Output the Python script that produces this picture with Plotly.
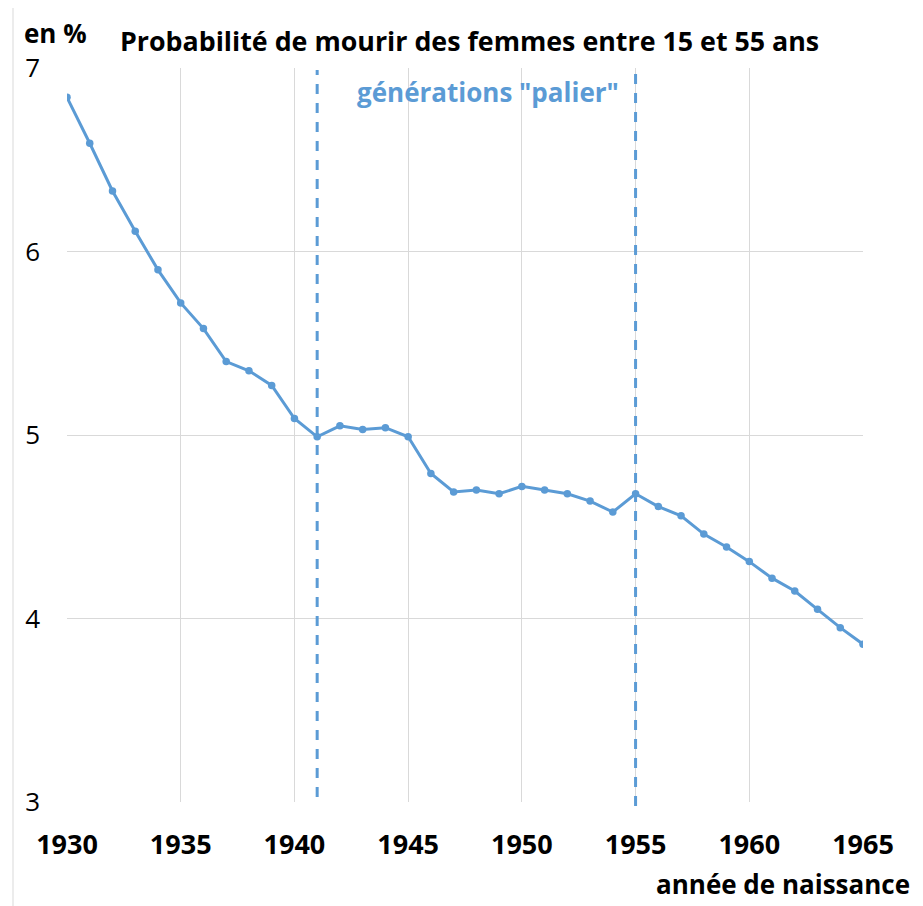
import plotly.graph_objects as go

years = list(range(1930, 1966))
values = [6.84, 6.59, 6.33, 6.11, 5.90, 5.72, 5.58, 5.40, 5.35, 5.27,
          5.09, 4.99, 5.05, 5.03, 5.04, 4.99, 4.79, 4.69, 4.70, 4.68,
          4.72, 4.70, 4.68, 4.64, 4.58, 4.68, 4.61, 4.56, 4.46, 4.39,
          4.31, 4.22, 4.15, 4.05, 3.95, 3.86]
palier_bounds = [1941, 1955]
x_ticks = [1930, 1935, 1940, 1945, 1950, 1955, 1960, 1965]
y_ticks = [3, 4, 5, 6, 7]

BLUE = "#5b9bd5"
FONT = "Open Sans, sans-serif"

# plot area in page pixels (page has an 8px body offset)
OFF = 8
PL, PR, PT, PB = 67, 863, 68, 802
W, H = 923, 906
pw, ph = PR - PL, PB - PT


def px(x):
    return (x - PL) / pw


def py(y):
    return (PB - y) / ph


fig = go.Figure()
fig.add_trace(go.Scatter(
    x=years, y=values, mode="lines+markers",
    line=dict(color=BLUE, width=3),
    marker=dict(color=BLUE, size=7.5),
    showlegend=False,
))

for xb in palier_bounds:
    fig.add_shape(type="line", x0=xb, x1=xb, xref="x", yref="paper",
                  y0=py(797) if xb == 1941 else py(806), y1=py(70),
                  line=dict(color=BLUE, width=3, dash="10px,9px"))

fig.add_annotation(x=1948.5, y=py(92), xref="x", yref="paper",
                   text='générations "palier"', showarrow=False,
                   xanchor="center", yanchor="middle",
                   font=dict(family=FONT, size=26, color=BLUE, weight="bold"))
fig.add_annotation(x=px(22), y=py(33), xref="paper", yref="paper",
                   text="en %", showarrow=False, xanchor="left", yanchor="middle",
                   font=dict(family=FONT, size=26, color="black", weight="bold"))
fig.add_annotation(x=px(118), y=py(40), xref="paper", yref="paper",
                   text="Probabilité de mourir des femmes entre 15 et 55 ans",
                   showarrow=False, xanchor="left", yanchor="middle",
                   font=dict(family=FONT, size=26.8, color="black", weight="bold"))
fig.add_annotation(x=px(912), y=py(884), xref="paper", yref="paper",
                   text="année de naissance", showarrow=False,
                   xanchor="right", yanchor="middle",
                   font=dict(family=FONT, size=26, color="black", weight="bold"))

fig.update_xaxes(range=[1930, 1965], tickvals=x_ticks, showgrid=True,
                 gridcolor="#d9d9d9", gridwidth=1, zeroline=False,
                 showline=False, ticks="", ticklabelstandoff=24,
                 tickfont=dict(family=FONT, size=27, color="black", weight="bold"))
fig.update_yaxes(range=[3, 7], tickvals=y_ticks, showgrid=True,
                 gridcolor="#d9d9d9", gridwidth=1, zeroline=False,
                 showline=False, ticks="", ticklabelstandoff=26,
                 tickfont=dict(family=FONT, size=26, color="black"))

fig.add_shape(type="rect", xref="paper", yref="paper", x0=px(13), x1=px(917),
              y0=py(960), y1=py(5), line=dict(color="#d9d9d9", width=1),
              layer="below")

fig.update_layout(
    width=W, height=H,
    margin=dict(l=PL - OFF, r=W - (PR - OFF), t=PT - OFF, b=H - (PB - OFF)),
    plot_bgcolor="white", paper_bgcolor="white",
    font=dict(family=FONT),
)

fig.write_html("out.html")
